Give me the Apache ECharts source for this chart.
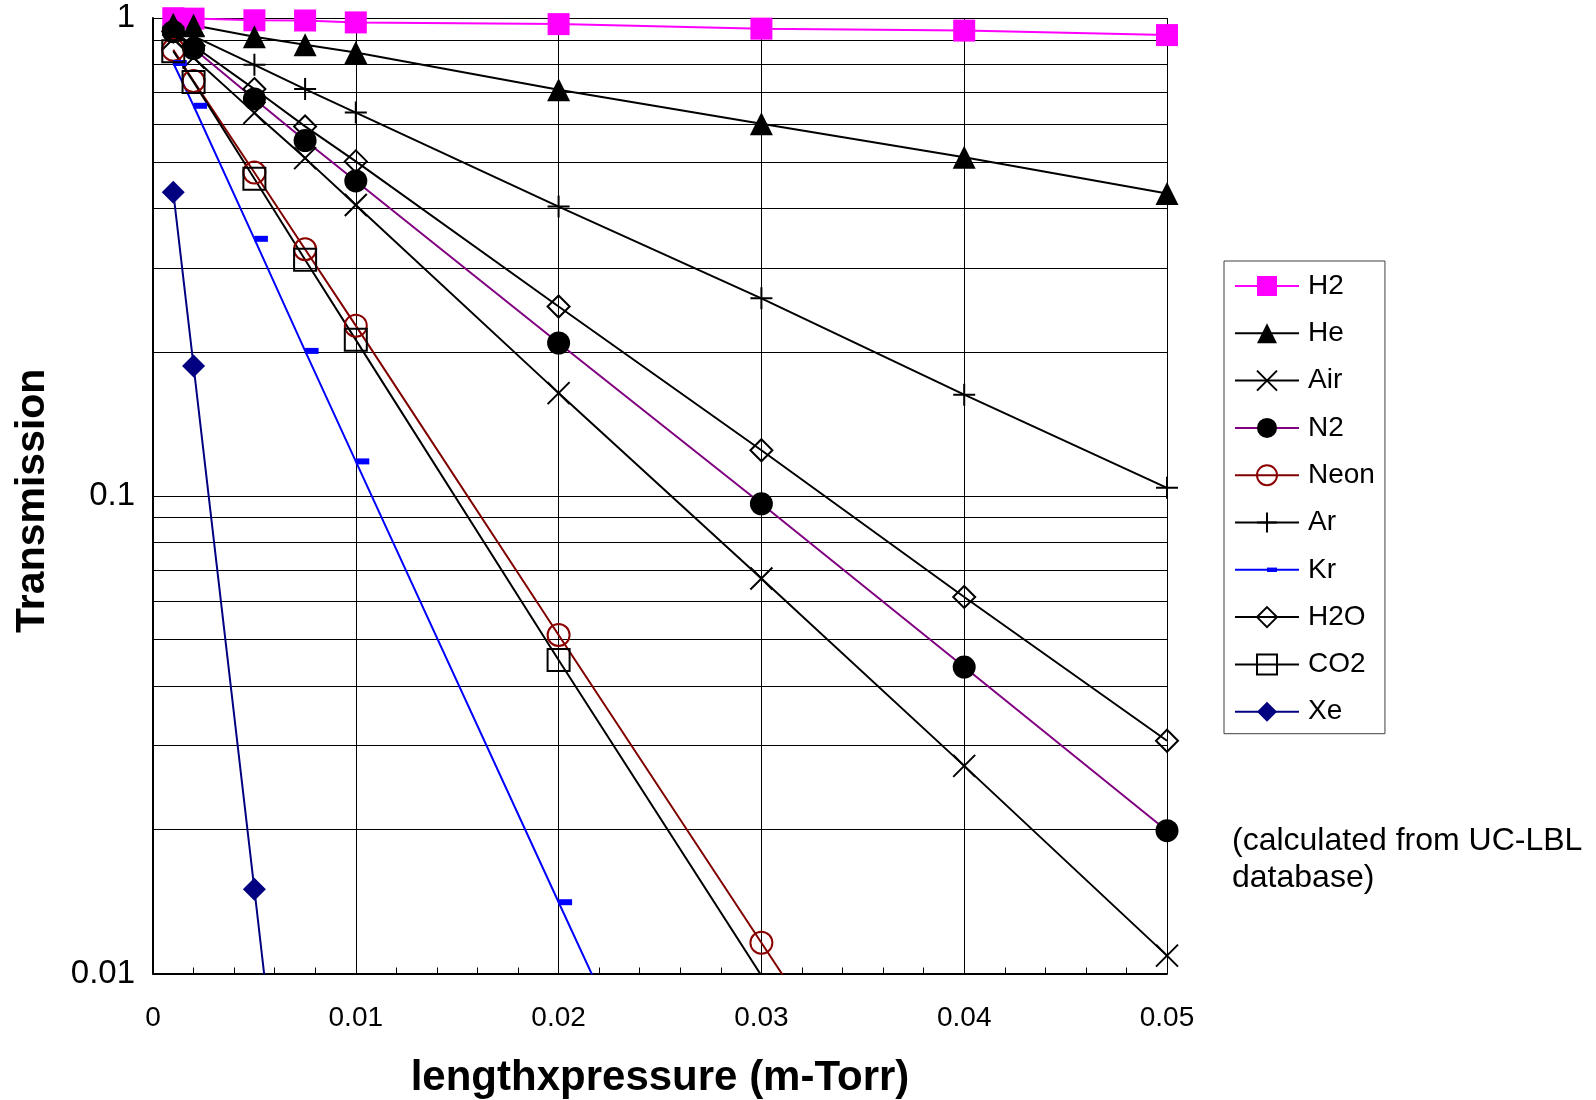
<!DOCTYPE html>
<html>
<head>
<meta charset="utf-8">
<script src="https://cdn.jsdelivr.net/npm/echarts@6/dist/echarts.min.js"></script>
<style>html,body{margin:0;padding:0;background:#fff}#c{width:1596px;height:1100px}</style>
</head>
<body>
<div id="c"></div>
<script>
// ---- data ----
const xValues = [0.001, 0.002, 0.005, 0.0075, 0.01, 0.02, 0.03, 0.04, 0.05];
const H2   = [0.999, 0.997, 0.989, 0.988, 0.979, 0.971, 0.950, 0.941, 0.921];
const He   = [0.970, 0.966, 0.914, 0.879, 0.847, 0.708, 0.601, 0.511, 0.429];
const Air  = [0.905, 0.826, 0.633, 0.509, 0.406, 0.164, 0.0671, 0.0272, 0.0109];
const N2   = [0.936, 0.863, 0.677, 0.554, 0.456, 0.2088, 0.0962, 0.0438, 0.0199];
const Neon = [0.858, 0.738, 0.475, 0.328, 0.227, 0.0511, 0.0116, 0.00264];
const Ar   = [0.959, 0.916, 0.798, 0.710, 0.634, 0.403, 0.259, 0.1628, 0.1039];
const Kr   = [0.805, 0.655, 0.345, 0.201, 0.118, 0.0141, 0.0017];
const H2O  = [0.938, 0.875, 0.710, 0.593, 0.501, 0.249, 0.1245, 0.0614, 0.0307];
const CO2  = [0.852, 0.735, 0.461, 0.312, 0.212, 0.0453, 0.0099, 0.0022];
const Xe   = [0.432, 0.187, 0.0150, 0.0018];
const seriesNames = ['H2', 'He', 'Air', 'N2', 'Neon', 'Ar', 'Kr', 'H2O', 'CO2', 'Xe'];
const yMinorGrid = [0.02, 0.03, 0.04, 0.05, 0.06, 0.07, 0.08, 0.09, 0.2, 0.3, 0.4, 0.5, 0.6, 0.7, 0.8, 0.9];
const noteLines = ['(calculated from UC-LBL', 'database)'];
const xTitle = 'lengthxpressure (m-Torr)';
const yTitle = 'Transmission';

const FONT = '"Liberation Sans", Arial, sans-serif';
const pts = arr => arr.map((v, i) => [xValues[i], v]);

const X_PATH = 'path://M0,0L20,20M20,0L0,20';
const PLUS_PATH = 'path://M10,0L10,20M0,10L20,10';
const DASH_PATH = 'path://M0,0M27,27M13.5,10.5H27V16.5H13.5Z';

function mk(name, values, lineColor, symbol, size, itemStyle) {
  return {
    name, type: 'line', data: pts(values), z: 3,
    symbol, symbolSize: size,
    showAllSymbol: true,
    clip: true,
    lineStyle: { color: lineColor, width: 2 },
    itemStyle: itemStyle,
    emphasis: { disabled: true }
  };
}

const series = [
  { name: '_grid', type: 'line', data: [], silent: true,
    markLine: { silent: true, z: 1, symbol: ['none', 'none'], label: { show: false },
      lineStyle: { color: '#000', width: 1, type: 'solid' }, animation: false,
      emphasis: { disabled: true },
      data: yMinorGrid.map(v => ({ yAxis: v })) } },
  mk('H2', H2, '#FF00FF', 'rect', 22, { color: '#FF00FF' }),
  mk('He', He, '#000000', 'triangle', 23, { color: '#000000' }),
  mk('Air', Air, '#000000', X_PATH, 22, { color: '#000000', borderColor: '#000000', borderWidth: 2 }),
  mk('N2', N2, '#800080', 'circle', 23, { color: '#000000' }),
  mk('Neon', Neon, '#800000', 'circle', 22, { color: 'rgba(255,255,255,0)', borderColor: '#8B0000', borderWidth: 2 }),
  mk('Ar', Ar, '#000000', PLUS_PATH, 22, { color: '#000000', borderColor: '#000000', borderWidth: 2 }),
  mk('Kr', Kr, '#0000FF', DASH_PATH, 27, { color: '#0000FF' }),
  mk('H2O', H2O, '#000000', 'diamond', 22, { color: 'rgba(255,255,255,0)', borderColor: '#000000', borderWidth: 2 }),
  mk('CO2', CO2, '#000000', 'rect', 22, { color: 'rgba(255,255,255,0)', borderColor: '#000000', borderWidth: 2 }),
  mk('Xe', Xe, '#000080', 'diamond', 23, { color: '#000080' })
];

const chart = echarts.init(document.getElementById('c'), null, { renderer: 'canvas' });
chart.setOption({
  animation: false,
  backgroundColor: '#fff',
  grid: { left: 153, right: 429, top: 18, bottom: 126.5, containLabel: false, outerBoundsMode: 'none' },
  xAxis: {
    type: 'value', min: 0, max: 0.05, interval: 0.01,
    axisLine: { show: true, lineStyle: { color: '#000', width: 2 } },
    axisTick: { show: true, inside: true, length: 6, lineStyle: { color: '#000', width: 1 } },
    minorTick: { show: true, splitNumber: 5, length: 6, lineStyle: { color: '#000', width: 1 } },
    splitLine: { show: true, lineStyle: { color: '#000', width: 1 } },
    axisLabel: { color: '#000', fontSize: 28, fontFamily: FONT, margin: 31,
      formatter: v => (v === 0 ? '0' : String(+v.toFixed(3))) },
    name: xTitle, nameLocation: 'middle', nameGap: 84,
    nameTextStyle: { color: '#000', fontSize: 42, fontWeight: 'bold', fontFamily: FONT }
  },
  yAxis: {
    type: 'log', logBase: 10, min: 0.01, max: 1,
    axisLine: { show: true, lineStyle: { color: '#000', width: 2 } },
    axisTick: { show: false },
    splitLine: { show: true, lineStyle: { color: '#000', width: 1 } },
    axisLabel: { color: '#000', fontSize: 33, fontFamily: FONT, margin: 18,
      formatter: v => String(+(+v).toPrecision(3)) },
    name: yTitle, nameLocation: 'middle', nameGap: 100,
    nameTextStyle: { color: '#000', fontSize: 41, fontWeight: 'bold', fontFamily: FONT, padding: [0, 10, 0, 0] }
  },
  legend: {
    data: seriesNames, orient: 'vertical', left: 1224, top: 261,
    padding: [11, 10, 8, 10], itemWidth: 64, itemHeight: 25, itemGap: 19.3,
    borderColor: '#404040', borderWidth: 1, backgroundColor: '#fff',
    selectedMode: false,
    textStyle: { color: '#000', fontSize: 28, fontFamily: FONT, padding: [0, 0, 0, 4] }
  },
  graphic: [{
    type: 'text', left: 1232, top: 823, silent: true,
    style: { text: noteLines.join('\n'), fill: '#000', font: '32px ' + FONT, lineHeight: 37 }
  }],
  series
});
</script>
</body>
</html>
